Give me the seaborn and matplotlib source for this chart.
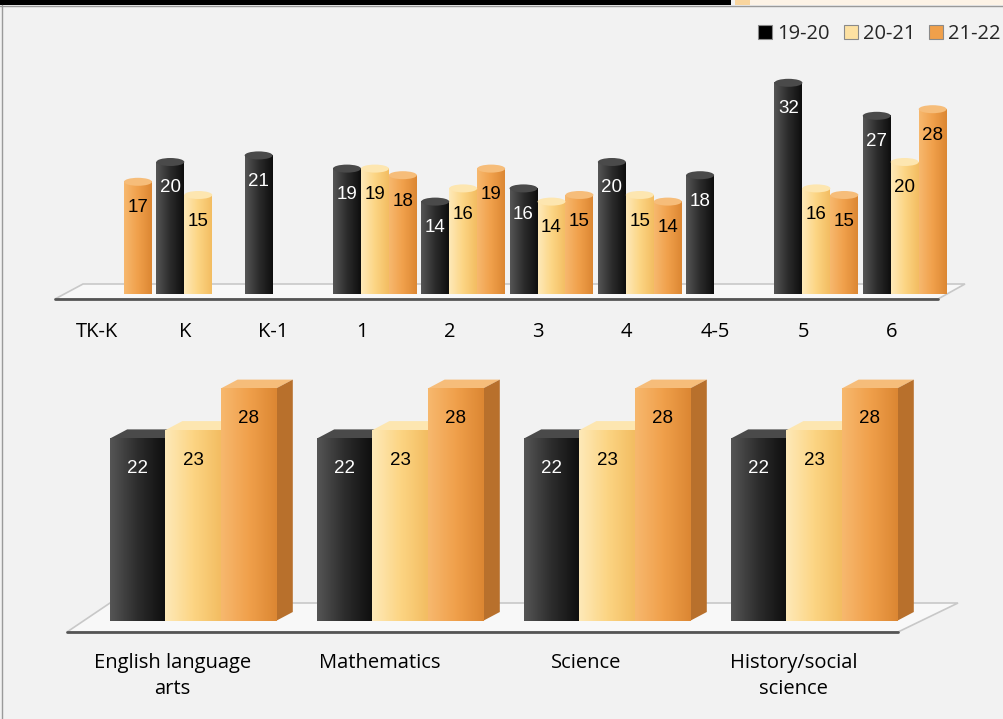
import numpy as np
import pandas as pd
import matplotlib
matplotlib.use("Agg")
import matplotlib.pyplot as plt
import seaborn as sns
from matplotlib.colors import LinearSegmentedColormap
from matplotlib.patches import Polygon, Ellipse, Rectangle, Patch
from matplotlib.lines import Line2D

# data
grades = ["TK-K", "K", "K-1", "1", "2", "3", "4", "4-5", "5", "6"]
g1920 = [np.nan, 20, 21, 19, 14, 16, 20, 18, 32, 27]
g2021 = [np.nan, 15, np.nan, 19, 16, 14, 15, np.nan, 16, 20]
g2122 = [17, np.nan, np.nan, 18, 19, 15, 14, np.nan, 15, 28]

subjects = ["English language\narts", "Mathematics", "Science", "History/social\nscience"]
s1920 = [22, 22, 22, 22]
s2021 = [23, 23, 23, 23]
s2122 = [28, 28, 28, 28]

years = ["19-20", "20-21", "21-22"]
palette = {"19-20": "#262626", "20-21": "#fcd37e", "21-22": "#f0a04b"}
shades = {
    "19-20": ["#555555", "#2c2c2c", "#0e0e0e"],
    "20-21": ["#fee9b8", "#fcd584", "#f3bd62"],
    "21-22": ["#f7b86e", "#f0a04b", "#dc8733"],
}
tops = {"19-20": "#4a4a4a", "20-21": "#fde6b0", "21-22": "#f6bd7a"}
sides = {"19-20": "#111111", "20-21": "#d9a953", "21-22": "#b8702c"}
label_col = {"19-20": "white", "20-21": "black", "21-22": "black"}
legend_col = {"19-20": "#000000", "20-21": "#fde1a2", "21-22": "#f0a04b"}

W, H = 1004, 719
BG = "#f2f2f2"

sns.set_theme(style="white")
plt.rcParams["font.family"] = ["Open Sans", "DejaVu Sans"]

fig = plt.figure(figsize=(W / 100, H / 100), dpi=100, facecolor=BG)


def fx(x):
    return x / W


def fy(y):
    return 1 - y / H


def long_df(cats, a, b, c, name):
    df = pd.DataFrame({name: cats, years[0]: a, years[1]: b, years[2]: c})
    return df.melt(id_vars=name, var_name="year", value_name="value")


# page decoration
fig.patches.append(Rectangle((0, fy(5)), fx(731), 5 / H, transform=fig.transFigure,
                             facecolor="black", edgecolor="none"))
fig.patches.append(Rectangle((fx(735), fy(5)), fx(15), 5 / H, transform=fig.transFigure,
                             facecolor="#f9d59e", edgecolor="none"))
fig.patches.append(Rectangle((fx(750), fy(5)), fx(254), 5 / H, transform=fig.transFigure,
                             facecolor="#fdf3e6", edgecolor="none"))
fig.lines.append(Line2D([0, 1], [fy(5.5), fy(5.5)], transform=fig.transFigure,
                        color="#9a9a9a", lw=1))
fig.lines.append(Line2D([fx(2.5), fx(2.5)], [fy(5), 0], transform=fig.transFigure,
                        color="#9a9a9a", lw=1))


def floor(front_y, fx0, fx1, back_y, bx0, bx1):
    poly = Polygon([(fx(fx0), fy(front_y)), (fx(fx1), fy(front_y)),
                    (fx(bx1), fy(back_y)), (fx(bx0), fy(back_y))],
                   closed=True, transform=fig.transFigure, facecolor="#f8f8f8",
                   edgecolor="#c8c8c8", lw=1.2, zorder=-2)
    fig.patches.append(poly)
    fig.lines.append(Line2D([fx(fx0), fx(fx1)], [fy(front_y), fy(front_y)],
                            transform=fig.transFigure, color="#555555", lw=2,
                            zorder=-1))


floor(299, 55, 938, 284, 83, 965)
floor(632, 67, 898, 603, 110, 958)


def shade_bars(ax, style, px_x, px_y, label_off):
    for year, cont in zip(years, ax.containers):
        cmap = LinearSegmentedColormap.from_list(year, shades[year])
        for bar in cont:
            h = bar.get_height()
            if not np.isfinite(h) or h <= 0:
                continue
            x0, w = bar.get_x(), bar.get_width()
            grad = np.linspace(0, 1, 64).reshape(1, -1)
            ax.imshow(grad, extent=(x0, x0 + w, 0, h), aspect="auto", cmap=cmap,
                      zorder=3, interpolation="bilinear")
            bar.set_visible(False)
            if style == "cyl":
                cap = 8 / px_y
                ax.add_patch(Ellipse((x0 + w / 2, h), w, cap, facecolor=tops[year],
                                     edgecolor="none", zorder=4))
            else:
                dx, dy = 17 / px_x, 9 / px_y
                ax.add_patch(Polygon([(x0, h), (x0 + w, h), (x0 + w + dx, h + dy),
                                      (x0 + dx, h + dy)], facecolor=tops[year],
                                     edgecolor="none", zorder=2))
                if year == years[-1]:
                    ax.add_patch(Polygon([(x0 + w, 0), (x0 + w, h), (x0 + w + dx, h + dy),
                                          (x0 + w + dx, dy)], facecolor=sides[year],
                                         edgecolor="none", zorder=2))
            ax.annotate(f"{int(h)}", xy=(x0 + w / 2, h), xytext=(0, -label_off),
                        textcoords="offset pixels", ha="center", va="center",
                        color=label_col[year], fontsize=13.5, family="Liberation Sans",
                        zorder=6)


def panel(rect, df, cat, width, xlim, ylim, style, px_x, px_y, label_off, shift, pad):
    ax = fig.add_axes(rect)
    ax.set_facecolor("none")
    sns.barplot(data=df, x=cat, y="value", hue="year", hue_order=years,
                palette=palette, width=width, saturation=1, errorbar=None,
                legend=False, ax=ax)
    shade_bars(ax, style, px_x, px_y, label_off)
    n = df[cat].nunique()
    ax.set_xticks(np.arange(n) - shift)
    ax.set_xticklabels(df[cat].unique(), fontsize=14.5, color="black",
                       linespacing=1.4)
    ax.tick_params(axis="x", length=0, pad=pad)
    ax.set_yticks([])
    ax.set_xlim(*xlim)
    ax.set_ylim(*ylim)
    ax.set_xlabel("")
    ax.set_ylabel("")
    sns.despine(ax=ax, left=True, bottom=True)
    return ax


# top panel: grades
top_df = long_df(grades, g1920, g2021, g2122, "grade")
px_x1, px_y1 = 88.3, 6.6
left1 = 40
x0_1 = -(110 - left1) / px_x1
ax1 = panel([fx(left1), fy(294), 950 / W, 231 / H], top_df, "grade", 0.95,
            (x0_1, x0_1 + 950 / px_x1), (0, 231 / px_y1), "cyl", px_x1, px_y1,
            26, 0.15, 20)

# bottom panel: subjects
bot_df = long_df(subjects, s1920, s2021, s2122, "subject")
px_x2, px_y2 = 207, 8.3
x0_2 = -(193 - left1) / px_x2
ax2 = panel([fx(left1), fy(621), 950 / W, 251 / H], bot_df, "subject", 0.8,
            (x0_2, x0_2 + 950 / px_x2), (0, 251 / px_y2), "box", px_x2, px_y2,
            30, 0.1, 23)

handles = [Patch(facecolor=legend_col[y], edgecolor="#8a8a8a", lw=0.8) for y in years]
fig.legend(handles, years, loc="upper right", bbox_to_anchor=(fx(1001), fy(24)),
           ncol=3, frameon=False, fontsize=14.5, handlelength=0.7, handleheight=0.7,
           handletextpad=0.25, columnspacing=0.7, borderaxespad=0, borderpad=0)

fig.savefig("out.png", dpi=100, facecolor=BG)
